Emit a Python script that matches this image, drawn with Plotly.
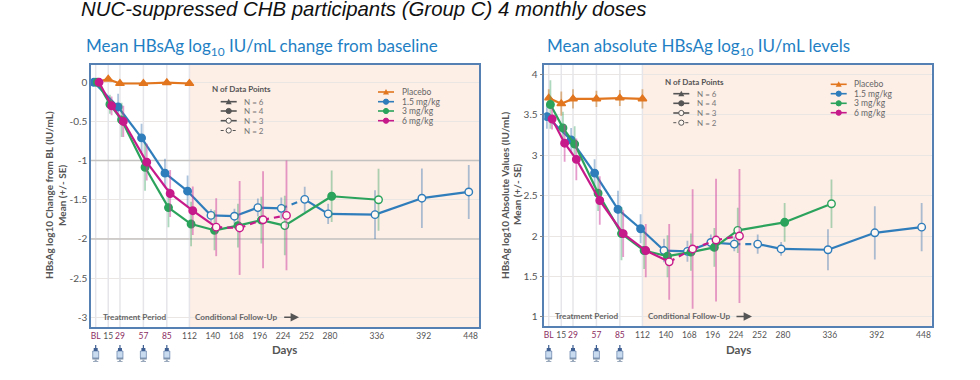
import plotly.graph_objects as go

W, H = 980, 380

# ---------- data ----------
TICK_DAYS = [0, 15, 29, 57, 85, 112, 140, 168, 196, 224, 252, 280, 336, 392, 448]
TICK_TEXT = ["BL", "15", "29", "57", "85", "112", "140", "168", "196", "224", "252", "280", "336", "392", "448"]
DOSE_DAYS = [0, 29, 57, 85]
GRID_DAYS = [0, 15, 29, 57, 85, 112]

placebo_days = [0, 15, 29, 57, 85, 112]
blue_days = [0, 29, 57, 85, 112, 140, 168, 196, 224, 252, 280, 336, 392, 448]
green_days = [0, 15, 29, 57, 85, 112, 140, 168, 196, 224, 280, 336]
magenta_days = [0, 15, 29, 57, 85, 112, 140, 168, 196, 224]

# left panel: change from baseline
L_placebo = [0, 0.04, -0.015, -0.015, -0.005, -0.015]
L_blue = [0, -0.315, -0.71, -1.16, -1.39, -1.70, -1.71, -1.60, -1.61, -1.495, -1.68, -1.69, -1.48, -1.40]
L_blue_se = [0, 0.17, 0.18, 0.185, 0.2, 0.08, 0.095, 0.115, 0.14, 0.16, 0.13, 0.31, 0.38, 0.345]
L_green = [0, -0.28, -0.48, -1.085, -1.60, -1.81, -1.89, -1.83, -1.76, -1.83, -1.455, -1.50]
L_green_se = [0, 0.12, 0.22, 0.3, 0.25, 0.285, 0.255, 0.28, 0.30, 0.38, 0.33, 0.395]
L_magenta = [0, -0.30, -0.50, -1.02, -1.42, -1.64, -1.85, -1.86, -1.755, -1.70]
L_magenta_se = [0, 0.12, 0.2, 0.235, 0.3, 0.31, 0.37, 0.60, 0.62, 0.70]

# right panel: absolute values
R_placebo = [3.71, 3.64, 3.70, 3.70, 3.71, 3.70]
R_placebo_se = [0.11, 0.15, 0.12, 0.1, 0.1, 0.12]
R_blue = [3.48, 3.19, 2.78, 2.33, 2.09, 1.82, 1.81, 1.92, 1.90, 1.90, 1.84, 1.83, 2.04, 2.11]
R_blue_se = [0.15, 0.15, 0.17, 0.23, 0.18, 0.145, 0.13, 0.1, 0.09, 0.12, 0.085, 0.255, 0.33, 0.30]
R_green = [3.63, 3.34, 3.14, 2.53, 2.03, 1.82, 1.75, 1.80, 1.86, 2.07, 2.17, 2.40]
R_green_se = [0.3, 0.2, 0.22, 0.22, 0.33, 0.23, 0.26, 0.23, 0.24, 0.28, 0.24, 0.3]
R_magenta = [3.45, 3.15, 2.95, 2.44, 2.03, 1.82, 1.68, 1.84, 1.95, 2.00]
R_magenta_se = [0.13, 0.23, 0.26, 0.3, 0.29, 0.33, 0.47, 0.74, 0.76, 0.83]

# days with open markers (few data points) and segments drawn dashed (starting day)
blue_open = [140, 168, 196, 224, 252, 280, 336, 392, 448]
green_open = [224, 336]
magenta_open = [140, 168, 196, 224]
blue_dash_from = [224]
magenta_dash_from = [140, 168, 196]

SERIES_NAMES = ["Placebo", "1.5 mg/kg", "3 mg/kg", "6 mg/kg"]
N_LABELS = ["N = 6", "N = 4", "N = 3", "N = 2"]

# ---------- style ----------
ORANGE, BLUE, GREEN, MAGENTA = "#e2761f", "#2f7dbb", "#2ba35c", "#c6198a"
ERR = {BLUE: "rgba(70,125,180,0.45)", GREEN: "rgba(60,165,100,0.42)",
       MAGENTA: "rgba(205,60,155,0.5)", ORANGE: "rgba(205,135,60,0.6)"}
DODGE = {ORANGE: 0, BLUE: -2.2, GREEN: 2, MAGENTA: 4}
FRAME = "#5580b4"
TXT = "#555555"
FONT = "Lato, 'Open Sans', sans-serif"


def fx(p):
    return p / W


def fy(p):
    return 1 - p / H


PANELS = [
    dict(xa="x", ya="y", left=91, right=479.3, top=65, bottom=327,
         xrange=[-5.6, 458.4], yrange=[-3.125, 0.221],
         yticks=[0, -0.5, -1, -1.5, -2, -2.5, -3], yticktext=["0", "-0.5", "-1", "-1.5", "-2", "-2.5", "-3"],
         ytitle="HBsAg log10 Change from BL (IU/mL)", tx1=49, tx2=62, dark=[-1, -2],
         treat=134, cond=236.3, arrow=(282.7, 299), days_x=284,
         ntitle=241.7, nrows=[101.7, 111, 120.7, 130.5], ntitle_y=89.3, nsx=220.7, ntx=243.3,
         srows=[92, 101.7, 111, 120.7], ssx=378, stx=400.7,
         sub="Mean HBsAg log<sub>10</sub> IU/mL change from baseline", subx=85, textrow=316.7),
    dict(xa="x2", ya="y2", left=544.3, right=931.7, top=64.7, bottom=326,
         xrange=[-5.3, 457.8], yrange=[0.885, 4.123],
         yticks=[1, 1.5, 2, 2.5, 3, 3.5, 4], yticktext=["1", "1.5", "2", "2.5", "3", "3.5", "4"],
         ytitle="HBsAg log10 Absolute Values (IU/mL)", tx1=505, tx2=517, dark=[],
         treat=586.7, cond=689, arrow=(735, 752), days_x=738,
         ntitle=694, nrows=[93.7, 103.3, 113, 122.7], ntitle_y=81.7, nsx=673.3, ntx=696,
         srows=[84.3, 93.7, 103.3, 112.7], ssx=830.7, stx=853.3,
         sub="Mean absolute HBsAg log<sub>10</sub> IU/mL levels", subx=546, textrow=316),
]

fig = go.Figure()
shapes, annos = [], []


def add_series(panel, days, vals, se, color, symbol="circle", open_days=(), dash_from=()):
    xa, ya = panel["xa"], panel["ya"]
    xs = [d + DODGE[color] for d in days]
    if se is not None:
        fig.add_trace(go.Scatter(x=xs, y=vals, mode="lines", line=dict(width=0), xaxis=xa, yaxis=ya,
                                 showlegend=False, hoverinfo="skip",
                                 error_y=dict(type="data", array=se, visible=True, thickness=1.8,
                                              width=0, color=ERR[color])))
    sx, sy, dx, dy = [], [], [], []
    for i in range(len(days) - 1):
        if days[i] in dash_from:
            dx += [xs[i], xs[i + 1], None]
            dy += [vals[i], vals[i + 1], None]
        else:
            sx += [xs[i], xs[i + 1], None]
            sy += [vals[i], vals[i + 1], None]
    fig.add_trace(go.Scatter(x=sx, y=sy, mode="lines", line=dict(color=color, width=2.2), xaxis=xa, yaxis=ya,
                             showlegend=False))
    if dx:
        fig.add_trace(go.Scatter(x=dx, y=dy, mode="lines", line=dict(color=color, width=2.2, dash="6px,5px"),
                                 xaxis=xa, yaxis=ya, showlegend=False))
    fills = ["#fff7f2" if d in open_days else color for d in days]
    fig.add_trace(go.Scatter(x=xs, y=vals, mode="markers", xaxis=xa, yaxis=ya, showlegend=False,
                             marker=dict(symbol=symbol, size=7.5, color=fills, line=dict(color=color, width=1.4))))


def sample(x0, y, color, kind, dashed=False):
    w = 16
    shapes.append(dict(type="line", xref="paper", yref="paper", x0=fx(x0), x1=fx(x0 + w), y0=fy(y), y1=fy(y),
                       line=dict(color=color, width=1.6 if not dashed else 1, dash="dot" if dashed else "solid"),
                       layer="above"))
    cx = x0 + w / 2
    if kind == "tri":
        path = f"M {fx(cx - 3)} {fy(y + 2.5)} L {fx(cx + 3)} {fy(y + 2.5)} L {fx(cx)} {fy(y - 3)} Z"
        shapes.append(dict(type="path", xref="paper", yref="paper", path=path, fillcolor=color,
                           line=dict(width=0), layer="above"))
    else:
        shapes.append(dict(type="circle", xref="paper", yref="paper", x0=fx(cx - 2.6), x1=fx(cx + 2.6),
                           y0=fy(y + 2.6), y1=fy(y - 2.6), fillcolor=color if kind == "fill" else "#fff7f2",
                           line=dict(color=color, width=1), layer="above"))


def text(x, y, s, size=9, color=TXT, bold=False, anchor="center", angle=0, font=FONT):
    t = f"<b>{s}</b>" if bold else s
    annos.append(dict(xref="paper", yref="paper", x=fx(x), y=fy(y), text=t, showarrow=False, xanchor=anchor,
                      yanchor="middle", textangle=angle, font=dict(size=size, color=color, family=font),
                      borderpad=0))


for idx, p in enumerate(PANELS):
    sfx = "" if idx == 0 else "2"
    xa_key, ya_key = "xaxis" + sfx, "yaxis" + sfx
    ticks = [f'<span style="color:#8c2d62">{t}</span>' if d in DOSE_DAYS else t
             for d, t in zip(TICK_DAYS, TICK_TEXT)]
    fig.update_layout({
        xa_key: dict(domain=[fx(p["left"]), fx(p["right"])], range=p["xrange"], anchor=p["ya"],
                     tickmode="array", tickvals=TICK_DAYS, ticktext=ticks, ticks="", showgrid=False,
                     tickangle=0, zeroline=False, showline=True, linecolor=FRAME, linewidth=1.5, mirror=True,
                     tickfont=dict(size=8.5, color=TXT, family=FONT)),
        ya_key: dict(domain=[fy(p["bottom"]), fy(p["top"])], range=p["yrange"], anchor=p["xa"],
                     tickmode="array", tickvals=p["yticks"], ticktext=p["yticktext"], ticks="outside" if idx else "",
                     ticklen=3, tickcolor="#888888", showgrid=True, gridcolor="#e9e6e3", gridwidth=1,
                     zeroline=False, showline=True, linecolor=FRAME, linewidth=1.5, mirror=True,
                     tickfont=dict(size=10, color=TXT, family=FONT)),
    })
    xa, ya = p["xa"], p["ya"]
    ylo, yhi = p["yrange"]
    xlo, xhi = p["xrange"]
    # follow-up shading
    shapes.append(dict(type="rect", xref=xa, yref=ya, x0=112, x1=xhi, y0=ylo, y1=yhi,
                       fillcolor="#fdeee6", line=dict(width=0), layer="below"))
    for d in GRID_DAYS:
        shapes.append(dict(type="line", xref=xa, yref=ya, x0=d, x1=d, y0=ylo, y1=yhi,
                           line=dict(color="#e6e6ea", width=1.5), layer="between"))
    for v in p["dark"]:
        shapes.append(dict(type="line", xref=xa, yref=ya, x0=xlo, x1=xhi, y0=v, y1=v,
                           line=dict(color="#c4c2c0", width=1.5), layer="between"))

    L = idx == 0
    add_series(p, placebo_days, L_placebo if L else R_placebo, None if L else R_placebo_se, ORANGE, "triangle-up")
    add_series(p, blue_days, L_blue if L else R_blue, L_blue_se if L else R_blue_se, BLUE,
               open_days=blue_open, dash_from=blue_dash_from)
    add_series(p, green_days, L_green if L else R_green, L_green_se if L else R_green_se, GREEN,
               open_days=green_open)
    add_series(p, magenta_days, L_magenta if L else R_magenta, L_magenta_se if L else R_magenta_se, MAGENTA,
               open_days=magenta_open, dash_from=magenta_dash_from)

    # dose syringes under the axis
    for d in DOSE_DAYS:
        for (hw, y0, y1, col) in [(0.6, 345, 348, "#3f5f92"), (2.0, 348, 351, "#3f5f92"),
                                  (3.0, 351, 358, "#c9dcef"), (3.4, 358, 359.5, "#7f93ad"),
                                  (1.0, 359.5, 361, "#9aa9bb"), (2.6, 361, 362, "#9aa9bb")]:
            shapes.append(dict(type="rect", xref=xa, xsizemode="pixel", xanchor=d, x0=-hw, x1=hw,
                               yref="paper", y0=fy(y0), y1=fy(y1), fillcolor=col,
                               line=dict(color="#4f6c9a" if col == "#c9dcef" else col, width=0.6 if col == "#c9dcef" else 0),
                               layer="above"))

    # panel texts
    text(p["treat"], p["textrow"], "Treatment Period", size=8.2, color="#666666", bold=True)
    text(p["cond"], p["textrow"], "Conditional Follow-Up", size=8.2, color="#666666", bold=True)
    a0, a1 = p["arrow"]
    annos.append(dict(xref="paper", yref="paper", axref="pixel", ayref="pixel", x=fx(a1), y=fy(p["textrow"] + 0.5),
                      ax=a0 - a1, ay=0, text="", showarrow=True, arrowhead=2, arrowsize=1.2,
                      arrowwidth=1.4, arrowcolor="#555555"))
    text(p["days_x"], 349, "Days", size=11.5, color=TXT, bold=True)
    cy = 195
    text(p["tx1"], cy, p["ytitle"], size=10, bold=True, angle=-90)
    text(p["tx2"], cy, "Mean (+/- SE)", size=10, bold=True, angle=-90)
    text(p["subx"], 47, p["sub"], size=17, color="#1f7fc4", anchor="left")

    # N of data points legend
    text(p["ntitle"], p["ntitle_y"], "N of Data Points", size=8, bold=True, color="#555555")
    for lab, y, kind, dashed in zip(N_LABELS, p["nrows"], ["tri", "fill", "open", "open"], [False, False, False, True]):
        sample(p["nsx"], y, "#555555", kind, dashed)
        text(p["ntx"], y, lab, size=8, color="#777777", anchor="left")
    # series legend
    for lab, y, col, kind in zip(SERIES_NAMES, p["srows"], [ORANGE, BLUE, GREEN, MAGENTA], ["tri", "fill", "fill", "fill"]):
        sample(p["ssx"], y, col, kind)
        text(p["stx"], y, lab, size=8.5, color="#666666", anchor="left")

text(80, 9, "<i>NUC-suppressed CHB participants (Group C) 4 monthly doses</i>", size=20.4, color="#111111",
     anchor="left", font="'Liberation Sans', Arial, sans-serif")

fig.update_layout(width=W, height=H, margin=dict(l=0, r=0, t=0, b=0), paper_bgcolor="white", plot_bgcolor="white",
                  showlegend=False, shapes=shapes, annotations=annos)
fig.write_html("out.html", post_script="document.body.style.margin='0';", config={"displayModeBar": False})
